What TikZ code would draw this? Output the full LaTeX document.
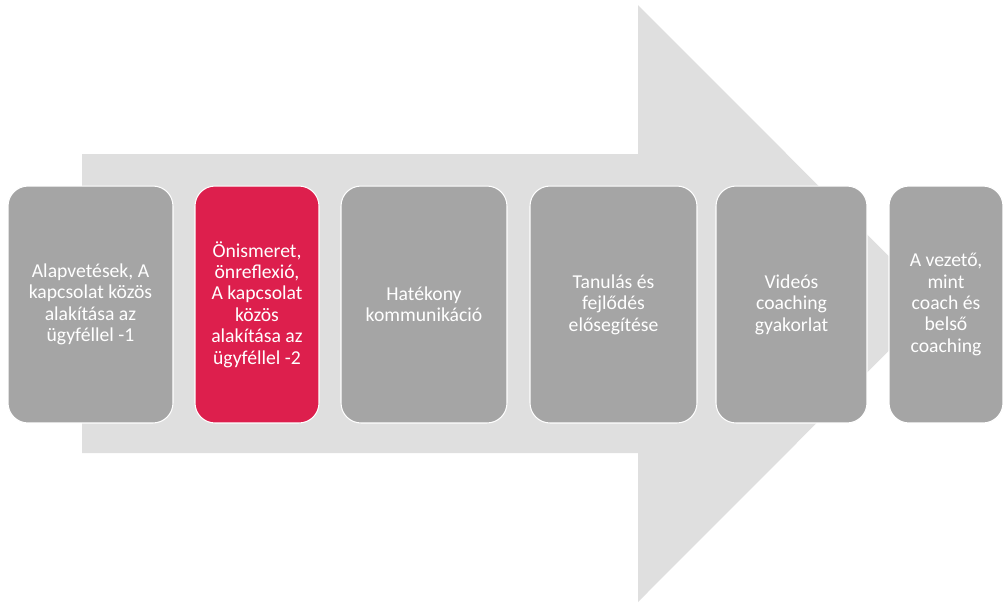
\documentclass[tikz,border=0pt]{standalone}
\usepackage{fontspec}
\setmainfont{Carlito}
\usetikzlibrary{positioning}
\definecolor{arrowgray}{HTML}{DFDFDF}
\definecolor{boxgray}{HTML}{A5A5A5}
\definecolor{boxred}{HTML}{DD1F4D}

\begin{document}
\begin{tikzpicture}[x=0.02cm, y=-0.02cm,
    stage/.style={rectangle, rounded corners=0.4cm, fill=boxgray, draw=white, line width=0.6pt,
      minimum height=4.74cm, inner sep=0pt, align=center, text=white,
      font=\fontsize{11.2}{12.2}\selectfont}]
      \useasboundingbox (0, 0) rectangle (1005, 603);

      % big background arrow
      \fill[arrowgray] (82, 154) -- (638, 154) -- (638, 5) -- (936, 303.5) -- (638, 602) -- (638, 453) -- (82, 453) -- cycle;

      \node[stage, minimum width=3.3cm] (alap) at (90.5, 304.5) {Alapvetések, A\\kapcsolat közös\\alakítása az\\ügyféllel -1};
      \node[stage, minimum width=2.48cm, fill=boxred] (onism) at (257, 304.5) {Önismeret,\\önreflexió,\\A kapcsolat\\közös\\alakítása az\\ügyféllel -2};
      \node[stage, minimum width=3.32cm] (komm) at (424, 304.5) {Hatékony\\kommunikáció};
      \node[stage, minimum width=3.34cm] (tanul) at (613.5, 304.5) {Tanulás és\\fejlődés\\elősegítése};
      \node[stage, minimum width=3.02cm] (video) at (791.5, 304.5) {Videós\\coaching\\gyakorlat};
      \node[stage, minimum width=2.28cm] (vezeto) at (946, 304.5) {A vezető,\\mint\\coach és\\belső\\coaching};
    \end{tikzpicture}
\end{document}
